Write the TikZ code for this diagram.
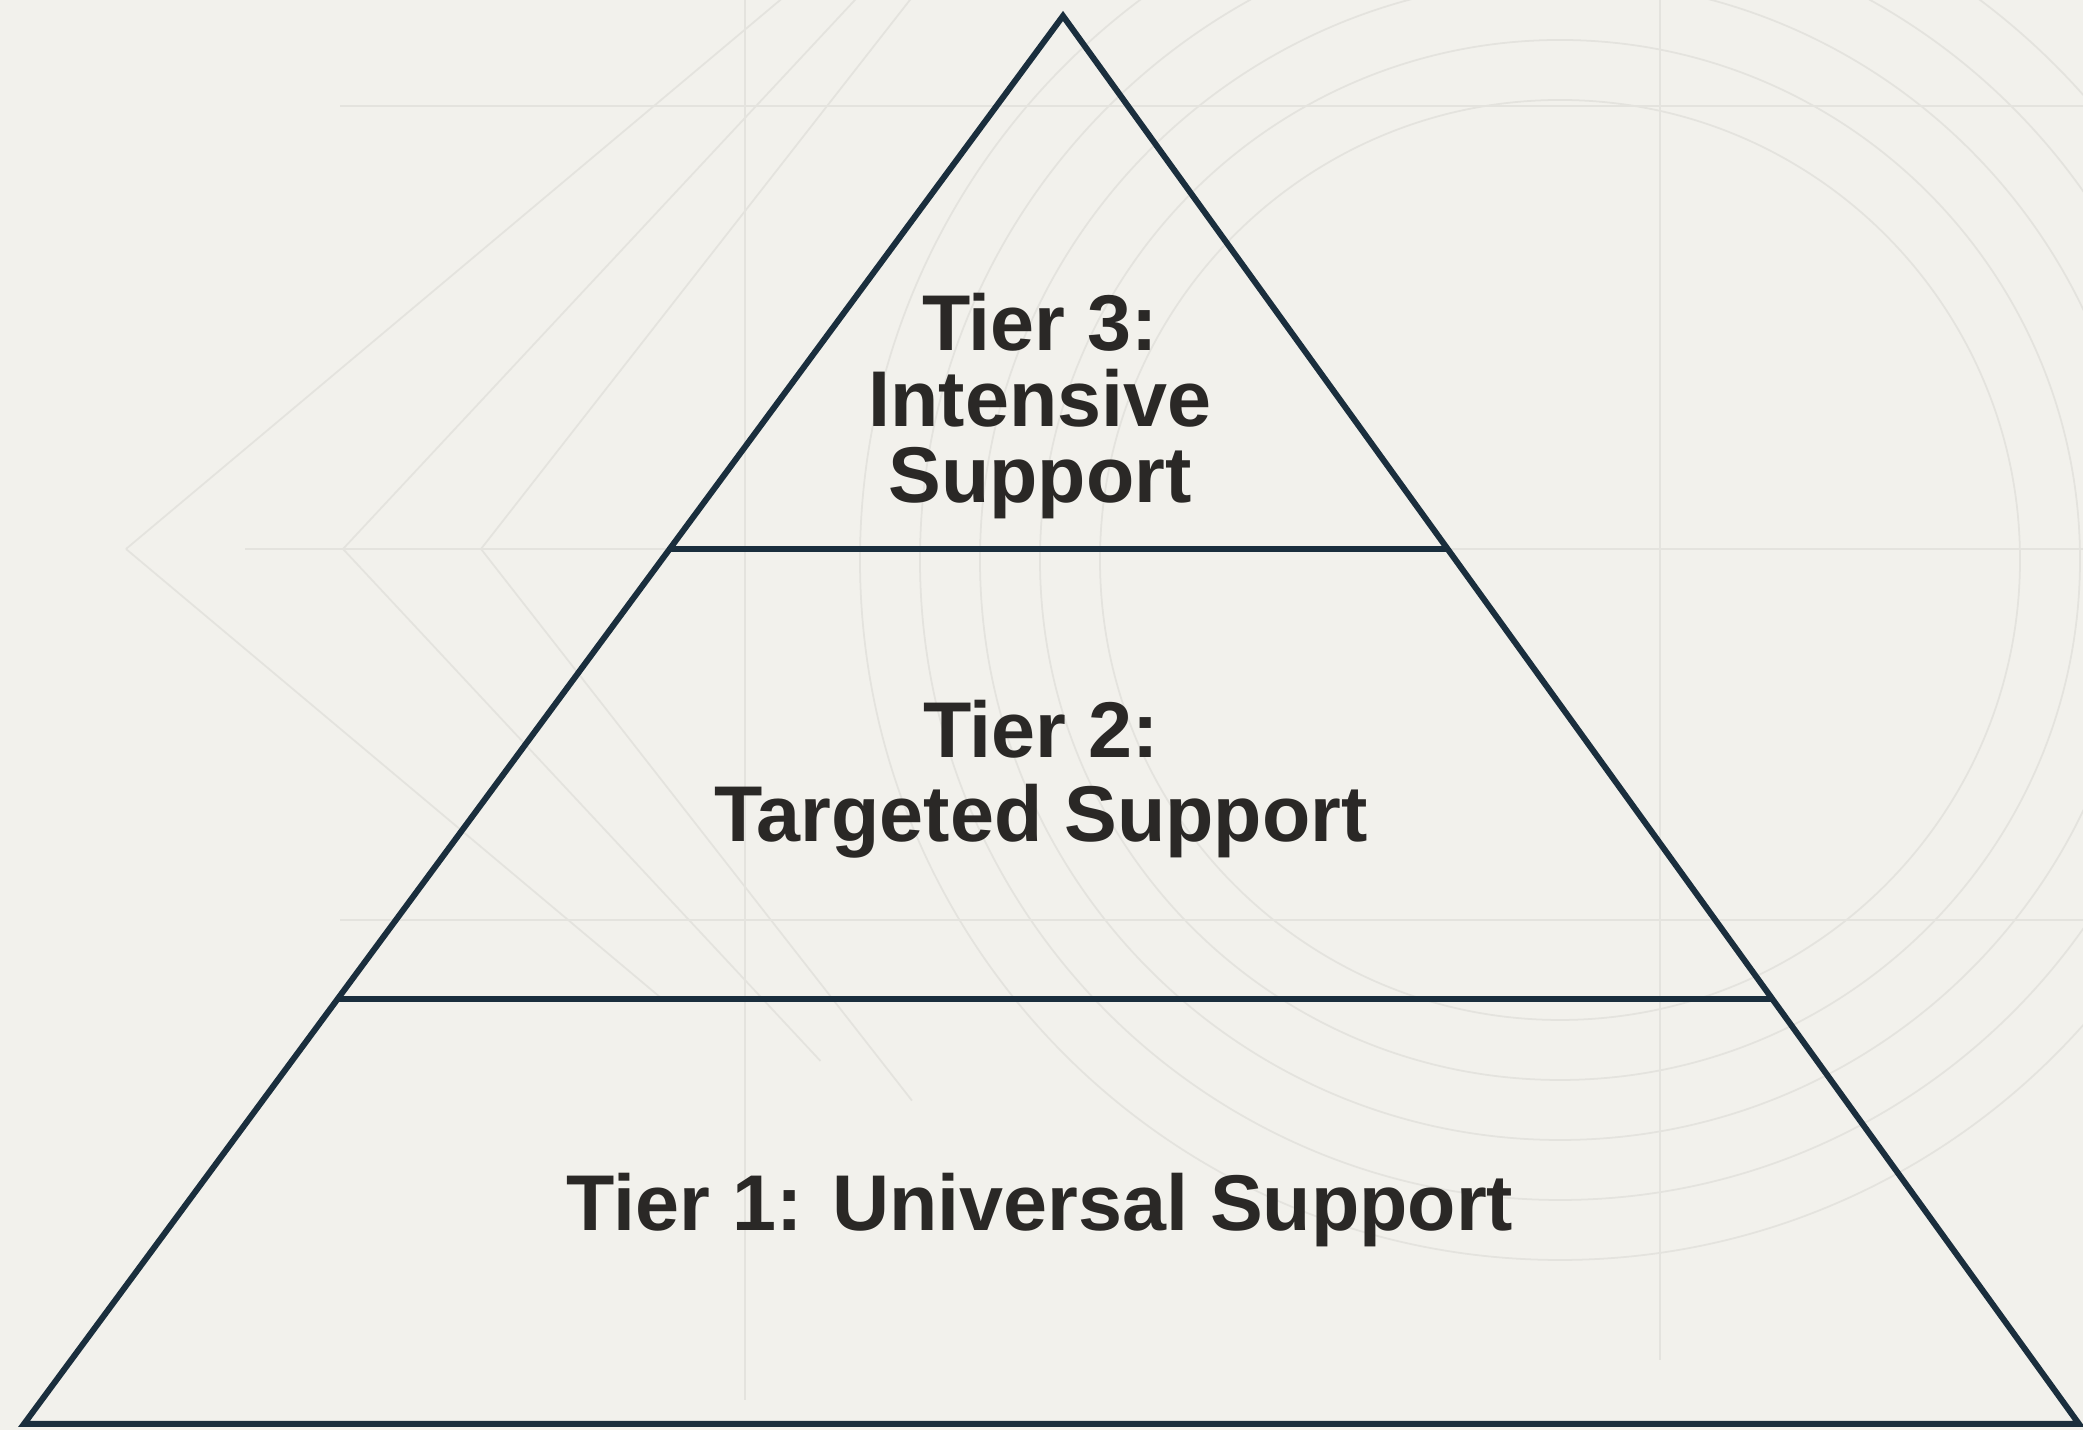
\documentclass[tikz,border=0pt]{standalone}
\usepackage{fontspec}
\setmainfont{Liberation Sans}
\usepackage{tikz}
\usetikzlibrary{positioning,calc}
\definecolor{paper}{HTML}{F2F1EC}
\definecolor{faint}{HTML}{E4E3DE}
\definecolor{edge}{HTML}{1A2E3D}
\definecolor{ink}{HTML}{2A2826}
\tikzset{
	guide/.style={draw=faint,line width=0.5pt},
	pyr/.style={draw=edge,line width=1.7pt,line join=miter},
	tierlabel/.style={text=ink,font=\bfseries\fontsize{22.5}{24}\selectfont,align=center,inner sep=0pt},
}

\begin{document}
\begin{tikzpicture}
		\useasboundingbox[fill=paper] (0,0) rectangle (20.83,14.30);
		
		% faint construction lines behind the pyramid
		\begin{scope}
			\clip (0,0) rectangle (20.83,14.30);
			\draw[guide] (3.40,13.24)--(20.83,13.24);
			\draw[guide] (2.45,8.81)--(20.83,8.81);
			\draw[guide] (3.40,5.10)--(20.83,5.10);
			\draw[guide] (7.45,0.30)--(7.45,14.30);
			\draw[guide] (16.60,0.70)--(16.60,14.30);
			\foreach \ax/\ang in {1.26/40,3.43/47,4.81/52}{%
				\draw[guide] (\ax,8.81) -- ++(\ang:9.0);
				\draw[guide] (\ax,8.81) -- ++(-\ang:7.0);
			}
			\foreach \r in {4.6,5.2,5.8,6.4,7.0}{%
				\draw[guide] (15.60,8.70) circle (\r);
			}
		\end{scope}
		
		\coordinate (apex) at (10.63,14.14);
		\coordinate (bl) at (0.24,0.06);
		\coordinate (br) at (20.79,0.06);
		\coordinate (l2) at ($(bl)!0.3018!(apex)$);
		\coordinate (r2) at ($(br)!0.3018!(apex)$);
		\coordinate (l3) at ($(bl)!0.6214!(apex)$);
		\coordinate (r3) at ($(br)!0.6214!(apex)$);
		
		\draw[pyr] (bl)--(apex)--(br)--cycle;
		\draw[pyr] (l2)--(r2);
		\draw[pyr] (l3)--(r3);
		
		\node[tierlabel,font=\bfseries\fontsize{22.5}{21.7}\selectfont] (t3) at (10.40,10.24) {Tier 3:\\Intensive\\Support};
		\node[tierlabel] (t2) at (10.41,6.51) {Tier 2:\\Targeted Support};
		\node[tierlabel] (t1) at (10.40,2.20) {Tier 1: Universal Support};
	\end{tikzpicture}
\end{document}
